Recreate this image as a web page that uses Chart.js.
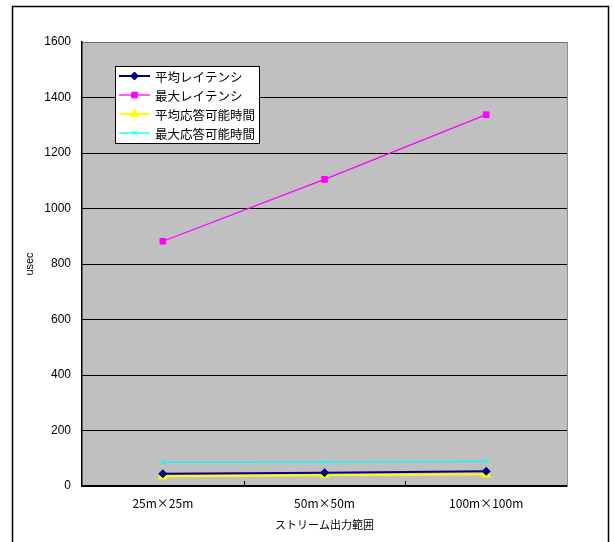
<!DOCTYPE html>
<html>
<head>
<meta charset="utf-8">
<script src="https://cdn.jsdelivr.net/npm/chart.js@4/dist/chart.umd.min.js"></script>
<style>
html,body{margin:0;padding:0;background:#fff;}
#wrap{width:614px;height:542px;position:relative;}
</style>
</head>
<body>
<div id="wrap"><canvas id="c" width="614" height="542"></canvas></div>
<script>
const categories = ['25m×25m', '50m×50m', '100m×100m'];
const avgLatency = [44, 48, 53];
const maxLatency = [882, 1105, 1338];
const avgResponse = [35, 39, 42];
const maxResponse = [85, 86, 89];
const seriesLabels = ['平均レイテンシ', '最大レイテンシ', '平均応答可能時間', '最大応答可能時間'];
const yTicks = [0, 200, 400, 600, 800, 1000, 1200, 1400, 1600];
const xTitle = 'ストリーム出力範囲';
const yTitle = 'usec';

const CJK = "'Noto Sans CJK JP', sans-serif";
const NUM = "'Liberation Sans', 'Noto Sans CJK JP', sans-serif";

const bgPlugin = {
  id: 'bg',
  beforeDraw(chart) {
    const ctx = chart.ctx, a = chart.chartArea;
    ctx.save();
    ctx.fillStyle = '#ffffff';
    ctx.fillRect(0, 0, chart.width, chart.height);
    ctx.strokeStyle = '#000000';
    ctx.lineWidth = 1.5;
    ctx.strokeRect(12.5, 6.5, 596, 600);
    ctx.fillStyle = '#C0C0C0';
    ctx.fillRect(a.left, a.top, a.right - a.left, a.bottom - a.top);
    ctx.restore();
  },
  afterDraw(chart) {
    const ctx = chart.ctx, a = chart.chartArea;
    const xs = chart.scales.x;
    ctx.save();
    ctx.strokeStyle = '#909090';
    ctx.lineWidth = 1;
    ctx.beginPath();
    ctx.moveTo(a.right + 0.5, a.top);
    ctx.lineTo(a.right + 0.5, a.bottom);
    ctx.stroke();
    ctx.strokeStyle = '#000000';
    for (let i = 1; i < categories.length; i++) {
      const px = Math.round(xs.getPixelForValue(i - 0.5)) + 0.5;
      ctx.beginPath();
      ctx.moveTo(px, a.bottom);
      ctx.lineTo(px, a.bottom - 5);
      ctx.stroke();
    }
    ctx.restore();
  }
};

const legendPlugin = {
  id: 'boxLegend',
  afterDraw(chart) {
    const ctx = chart.ctx;
    const bx = 115, by = 66, bw = 144, bh = 77;
    ctx.save();
    ctx.fillStyle = '#ffffff';
    ctx.fillRect(bx, by, bw, bh);
    ctx.strokeStyle = '#000000';
    ctx.lineWidth = 1;
    ctx.strokeRect(bx + 0.5, by + 0.5, bw, bh);
    ctx.font = "12.5px " + CJK;
    ctx.textBaseline = 'middle';
    ctx.textAlign = 'left';
    chart.data.datasets.forEach((ds, i) => {
      const y = 76 + i * 19;
      ctx.strokeStyle = ds.borderColor;
      ctx.lineWidth = ds.borderWidth;
      ctx.beginPath();
      ctx.moveTo(119, y);
      ctx.lineTo(150, y);
      ctx.stroke();
      ctx.fillStyle = ds.pointBackgroundColor;
      ctx.strokeStyle = ds.pointBorderColor;
      ctx.lineWidth = ds.pointBorderWidth || 1;
      Chart.helpers.drawPoint(ctx, {
        pointStyle: ds.pointStyle,
        radius: ds.pointRadius,
        rotation: 0,
        borderWidth: ds.pointBorderWidth || 1
      }, 134.5, y);
      ctx.fillStyle = '#000000';
      ctx.fillText(ds.label, 155, y + 1);
    });
    ctx.restore();
  }
};

function ds(label, data, color, style, radius, width) {
  return {
    label: label,
    data: data,
    borderColor: color,
    backgroundColor: color,
    pointBackgroundColor: color,
    pointBorderColor: color,
    pointStyle: style,
    pointRadius: radius,
    pointHoverRadius: radius,
    pointBorderWidth: 1,
    borderWidth: width,
    tension: 0,
    fill: false
  };
}

new Chart(document.getElementById('c'), {
  type: 'line',
  data: {
    labels: categories,
    datasets: [
      ds(seriesLabels[0], avgLatency, '#000080', 'rectRot', 4, 2),
      ds(seriesLabels[1], maxLatency, '#FF00FF', 'rect', 4, 1.3),
      ds(seriesLabels[2], avgResponse, '#FFFF00', 'triangle', 5, 2),
      ds(seriesLabels[3], maxResponse, '#00FFFF', 'crossRot', 3.5, 1.3)
    ]
  },
  options: {
    responsive: false,
    animation: false,
    devicePixelRatio: 1,
    layout: { padding: { top: 42, right: 47, left: 0, bottom: 0 } },
    plugins: { legend: { display: false }, tooltip: { enabled: false } },
    scales: {
      x: {
        type: 'category',
        offset: true,
        afterFit(s) { s.height = 56; },
        grid: { display: true, drawOnChartArea: false, drawTicks: false },
        border: { display: true, color: '#000000', width: 1.5 },
        ticks: { color: '#000000', padding: 10, font: { family: CJK, size: 12 }, maxRotation: 0 },
        title: { display: true, text: xTitle, color: '#000000', font: { family: CJK, size: 11 }, padding: { top: 0, bottom: 11 } }
      },
      y: {
        min: 0,
        max: 1600,
        afterFit(s) { s.width = 82; },
        afterBuildTicks(s) { s.ticks = yTicks.map(v => ({ value: v })); },
        grid: {
          drawTicks: false,
          color: (c) => (c.tick && c.tick.value === 1600) ? '#707070' : '#000000',
          lineWidth: 1
        },
        border: { display: true, color: '#000000', width: 1.5 },
        ticks: {
          color: '#000000', padding: 11, font: { family: NUM, size: 12 },
          callback: (v) => String(v)
        },
        title: { display: true, text: yTitle, color: '#000000', font: { family: NUM, size: 11 }, padding: { top: 23, bottom: 0 } }
      }
    }
  },
  plugins: [bgPlugin, legendPlugin]
});
</script>
</body>
</html>
